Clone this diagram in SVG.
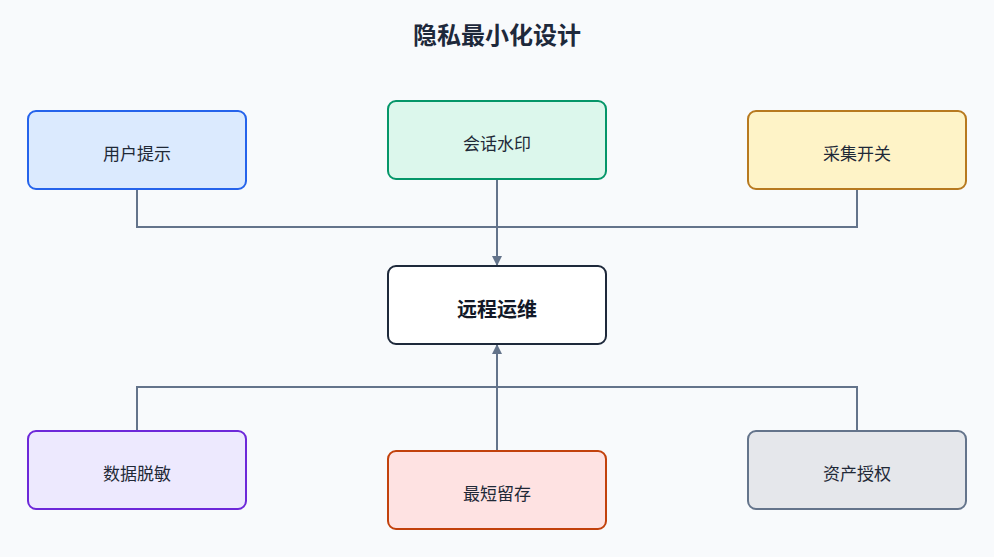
<svg xmlns="http://www.w3.org/2000/svg" width="994" height="557" viewBox="0 0 994 557">
<style>
.node rect{stroke-width:2}
.lbl{font-family:"Noto Sans CJK SC","Noto Sans",sans-serif;font-size:17px;fill:#1f2937;text-anchor:middle}
.bold{font-weight:700;font-size:20px;fill:#111827}
.title{font-family:"Noto Sans CJK SC","Noto Sans",sans-serif;font-size:24px;font-weight:700;fill:#1e293b;text-anchor:middle}
.conn path{fill:none;stroke:#64748b;stroke-width:2}
</style>
<defs>
<marker id="arr" viewBox="0 0 10 10" refX="10" refY="5" markerWidth="5" markerHeight="5" orient="auto-start-reverse" markerUnits="strokeWidth">
<path d="M0,0 L10,5 L0,10 z" fill="#64748b"/>
</marker>
</defs>
<rect width="994" height="557" fill="#f8fafc"/>
<text class="title" x="497" y="44">隐私最小化设计</text>
<g class="conn">
<path d="M137,189 V227 H857 V189"/>
<path d="M497,179 V266" marker-end="url(#arr)"/>
<path d="M137,431 V387 H857 V431"/>
<path d="M497,451 V344" marker-end="url(#arr)"/>
</g>
<g id="n-tip" class="node"><rect x="28" y="111" width="218" height="78" rx="8" fill="#dbeafe" stroke="#2563eb"/><text class="lbl" x="137" y="160">用户提示</text></g>
<g id="n-watermark" class="node"><rect x="388" y="101" width="218" height="78" rx="8" fill="#dcf7ec" stroke="#059669"/><text class="lbl" x="497" y="150">会话水印</text></g>
<g id="n-switch" class="node"><rect x="748" y="111" width="218" height="78" rx="8" fill="#fef3c7" stroke="#b7791f"/><text class="lbl" x="857" y="160">采集开关</text></g>
<g id="n-center" class="node"><rect x="388" y="266" width="218" height="78" rx="8" fill="#ffffff" stroke="#1e293b"/><text class="lbl bold" x="497" y="317">远程运维</text></g>
<g id="n-mask" class="node"><rect x="28" y="431" width="218" height="78" rx="8" fill="#ede9fe" stroke="#6d28d9"/><text class="lbl" x="137" y="480">数据脱敏</text></g>
<g id="n-retain" class="node"><rect x="388" y="451" width="218" height="78" rx="8" fill="#fee2e2" stroke="#c2410c"/><text class="lbl" x="497" y="500">最短留存</text></g>
<g id="n-asset" class="node"><rect x="748" y="431" width="218" height="78" rx="8" fill="#e5e7eb" stroke="#64748b"/><text class="lbl" x="857" y="480">资产授权</text></g>
</svg>
